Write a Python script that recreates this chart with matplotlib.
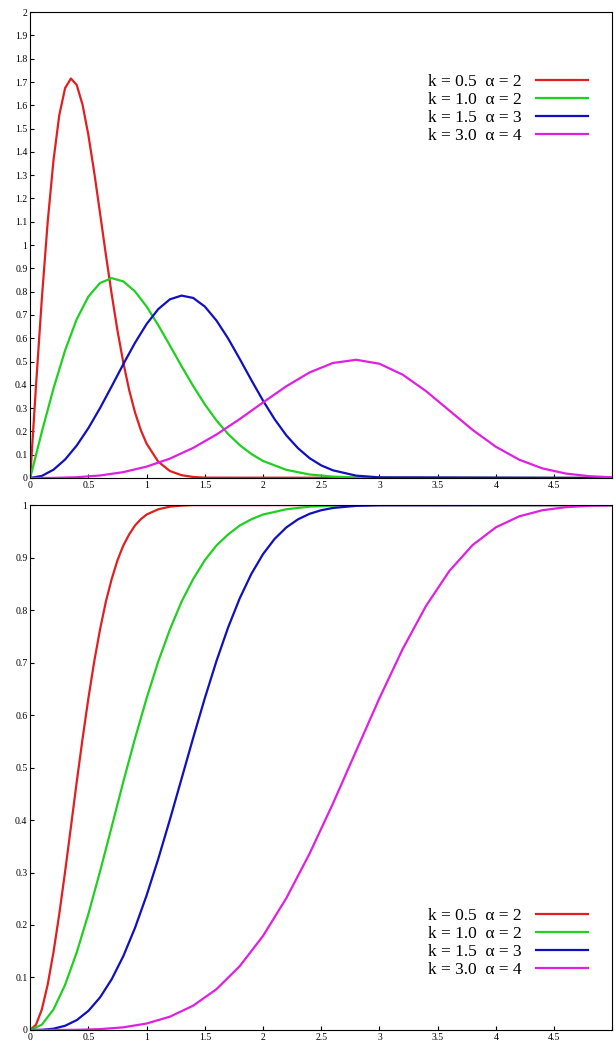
import matplotlib.pyplot as plt
import numpy as np

x_red = [0, .05, .1, .15, .2, .25, .3, .35, .4, .45, .5, .55, .6, .65, .7, .75, .8, .85, .9, .95, 1.0, 1.1, 1.2, 1.3, 1.4, 1.5, 5.0]
pdf_red = [0, .396, .769, 1.097, 1.363, 1.558, 1.674, 1.715, 1.687, 1.602, 1.472, 1.312, 1.137, .959, .789, .632, .495, .378, .282, .206, .147, .070, .030, .012, .0044, .0015, 0]
cdf_red = [0, .010, .039, .086, .148, .221, .302, .387, .473, .555, .632, .702, .763, .816, .859, .895, .923, .944, .961, .973, .982, .992, .997, .999, 1.0, 1.0, 1.0]

x_green = [0, .1, .2, .3, .4, .5, .6, .7, .8, .9, 1.0, 1.1, 1.2, 1.3, 1.4, 1.5, 1.6, 1.7, 1.8, 1.9, 2.0, 2.2, 2.4, 2.6, 2.8, 3.0, 5.0]
pdf_green = [0, .198, .384, .548, .682, .779, .837, .858, .844, .801, .736, .656, .569, .480, .395, .316, .247, .189, .141, .103, .073, .035, .015, .006, .002, .0007, 0]
cdf_green = [0, .010, .039, .086, .148, .221, .302, .387, .473, .555, .632, .702, .763, .816, .859, .895, .923, .944, .961, .973, .982, .992, .997, .999, 1.0, 1.0, 1.0]

x_blue = [0, .1, .2, .3, .4, .5, .6, .7, .8, .9, 1.0, 1.1, 1.2, 1.3, 1.4, 1.5, 1.6, 1.7, 1.8, 1.9, 2.0, 2.1, 2.2, 2.3, 2.4, 2.5, 2.6, 2.8, 3.0, 5.0]
pdf_blue = [0, .0089, .0355, .0794, .1395, .2141, .300, .3935, .4888, .580, .661, .725, .767, .783, .773, .736, .676, .599, .511, .420, .332, .252, .183, .128, .085, .054, .033, .010, .0027, 0]
cdf_blue = [0, .0003, .0024, .008, .0188, .0364, .062, .0966, .1407, .1943, .2564, .3259, .4007, .4785, .5565, .6321, .7029, .7668, .8224, .869, .9066, .9357, .9574, .9728, .9834, .9902, .9945, .9985, .9997, 1.0]

x_mag = [0, .2, .4, .6, .8, 1.0, 1.2, 1.4, 1.6, 1.8, 2.0, 2.2, 2.4, 2.6, 2.8, 3.0, 3.2, 3.4, 3.6, 3.8, 4.0, 4.2, 4.4, 4.6, 4.8, 5.0]
pdf_mag = [0, .0004, .0032, .0107, .0252, .0488, .0832, .1292, .1866, .2530, .3243, .3938, .4532, .4937, .5075, .4905, .4434, .3729, .2896, .2065, .1340, .0786, .0411, .0191, .0078, .0028]
cdf_mag = [0, 0, .0003, .0016, .0050, .0123, .0253, .0463, .0777, .1216, .1792, .2511, .3361, .4312, .5318, .6321, .7260, .8079, .8743, .9238, .9576, .9785, .9902, .9960, .9986, .9996]

labels = ['k = 0.5  \u03b1 = 2', 'k = 1.0  \u03b1 = 2', 'k = 1.5  \u03b1 = 3', 'k = 3.0  \u03b1 = 4']
colors = ['#e02020', '#20d020', '#1010c0', '#e020e0']

plt.rcParams['font.family'] = ['Liberation Serif', 'DejaVu Serif']

fig = plt.figure(figsize=(6.16, 10.54), dpi=100)
ax1 = fig.add_axes([0.049, 0.5465, 0.945, 0.442])
ax2 = fig.add_axes([0.049, 0.0228, 0.945, 0.498])

xs = [x_red, x_green, x_blue, x_mag]
for ax, ys, ymax in [(ax1, [pdf_red, pdf_green, pdf_blue, pdf_mag], 2),
                     (ax2, [cdf_red, cdf_green, cdf_blue, cdf_mag], 1)]:
    for x, y, c, lab in zip(xs, ys, colors, labels):
        ax.plot(x, y, color=c, lw=1.6, label=lab)
    ax.set_xlim(0, 5)
    ax.set_ylim(0, ymax)
    ax.set_xticks(np.arange(0, 5.01, 0.5))
    ax.set_xticklabels(['0', '0.5', '1', '1.5', '2', '2.5', '3', '3.5', '4', '4.5', ''])
    yt = np.round(np.arange(0, ymax + 0.001, 0.1), 1)
    ax.set_yticks(yt)
    ax.set_yticklabels([('%g' % v) for v in yt])
    ax.tick_params(direction='in', labelsize=7, length=3, pad=2)
    for s in ax.spines.values():
        s.set_linewidth(0.8)

ax1.legend(loc='upper right', bbox_to_anchor=(0.985, 0.9), frameon=False, markerfirst=False,
           fontsize=12.5, handlelength=3, labelspacing=0.1)
ax2.legend(loc='lower right', bbox_to_anchor=(0.985, 0.07), frameon=False, markerfirst=False,
           fontsize=12.5, handlelength=3, labelspacing=0.1)

fig.savefig('out.png', dpi=100)
